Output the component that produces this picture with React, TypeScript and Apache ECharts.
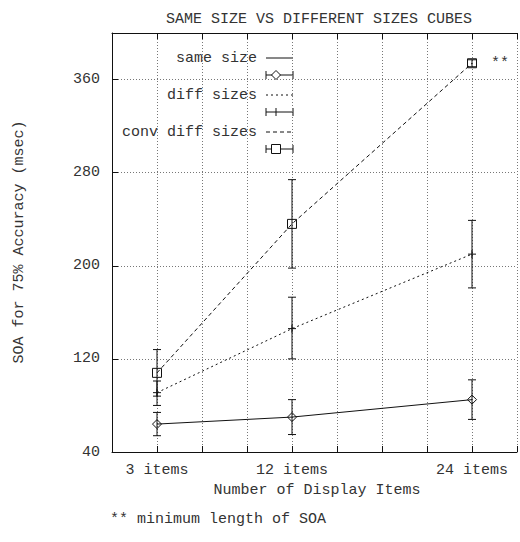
import React, { useEffect, useRef } from "react";
import * as echarts from "echarts";

// Number of display items (x positions) and the SOA values with their error ranges
const itemCounts = [3, 12, 24];

const sameSize = [64, 70, 85];
const sameSizeLow = [54, 55, 68];
const sameSizeHigh = [74, 85, 102];

const diffSizes = [91, 146, 210];
const diffSizesLow = [80, 120, 181];
const diffSizesHigh = [101, 173, 239];

const convDiffSizes = [108, 236, 374];
const convDiffSizesLow = [88, 198, 371];
const convDiffSizesHigh = [128, 274, 377];

const xTickLabels: Record<number, string> = { 3: "3 items", 12: "12 items", 24: "24 items" };
const yTickLabels = [40, 120, 200, 280, 360];

const FONT = "'Liberation Mono', 'DejaVu Sans Mono', monospace";
const INK = "#111";
const TEXT = "#333";
const GRID_LEFT = 112;
const GRID_TOP = 33;
const GRID_W = 414;
const GRID_H = 419;

function errorBarSeries(name: string, low: number[], high: number[]) {
  return {
    name: name + " err",
    type: "custom",
    z: 2,
    silent: true,
    data: itemCounts.map((x, i) => [x, low[i], high[i]]),
    renderItem: (_params: any, api: any) => {
      const x = api.value(0);
      const lo = api.coord([x, api.value(1)]);
      const hi = api.coord([x, api.value(2)]);
      const hw = 4;
      const style = { stroke: INK, lineWidth: 1 };
      return {
        type: "group",
        children: [
          { type: "line", shape: { x1: lo[0], y1: lo[1], x2: hi[0], y2: hi[1] }, style },
          { type: "line", shape: { x1: hi[0] - hw, y1: hi[1], x2: hi[0] + hw, y2: hi[1] }, style },
          { type: "line", shape: { x1: lo[0] - hw, y1: lo[1], x2: lo[0] + hw, y2: lo[1] }, style },
        ],
      };
    },
  };
}

function lineSeries(name: string, values: number[], dash: any, symbol: string, size: number, extra?: any) {
  return {
    name,
    type: "line",
    z: 3,
    data: itemCounts.map((x, i) => {
      const item: any = { value: [x, values[i]] };
      if (extra && extra.index === i) item.label = extra.label;
      return item;
    }),
    lineStyle: { color: INK, width: 1, type: dash },
    symbol,
    symbolSize: size,
    showAllSymbol: true,
    itemStyle: { color: "transparent", borderColor: INK, borderWidth: 1 },
    emphasis: { disabled: true },
  };
}

function legendGraphics() {
  const textX = 257;
  const x1 = 266;
  const x2 = 293;
  const mx = 276;
  const rows = [
    { label: "same size", y: 58, dash: "solid", marker: "diamond" },
    { label: "diff sizes", y: 95, dash: [2, 3], marker: "plus" },
    { label: "conv diff sizes", y: 132, dash: [4, 3], marker: "square" },
  ];
  const els: any[] = [];
  rows.forEach((r) => {
    els.push({
      type: "text",
      x: textX,
      y: r.y,
      style: { text: r.label, font: `15px ${FONT}`, fill: TEXT, align: "right", verticalAlign: "middle" },
    });
    els.push({
      type: "line",
      shape: { x1, y1: r.y, x2, y2: r.y },
      style: { stroke: INK, lineWidth: 1, lineDash: r.dash === "solid" ? null : r.dash },
    });
    const ey = r.y + 17;
    const st = { stroke: INK, lineWidth: 1, fill: "none" };
    els.push({ type: "line", shape: { x1, y1: ey, x2, y2: ey }, style: st });
    els.push({ type: "line", shape: { x1, y1: ey - 4, x2: x1, y2: ey + 4 }, style: st });
    els.push({ type: "line", shape: { x1: x2, y1: ey - 4, x2, y2: ey + 4 }, style: st });
    if (r.marker === "diamond") {
      els.push({
        type: "polygon",
        shape: { points: [[mx, ey - 4.5], [mx + 4.5, ey], [mx, ey + 4.5], [mx - 4.5, ey]] },
        style: { stroke: INK, lineWidth: 1, fill: "#fff" },
      });
    } else if (r.marker === "plus") {
      els.push({ type: "line", shape: { x1: mx, y1: ey - 4, x2: mx, y2: ey + 4 }, style: st });
    } else {
      els.push({ type: "rect", shape: { x: mx - 4.5, y: ey - 4.5, width: 9, height: 9 }, style: { stroke: INK, lineWidth: 1, fill: "#fff" } });
    }
  });
  return els;
}

export default function App() {
  const ref = useRef<HTMLDivElement>(null);

  useEffect(() => {
    if (!ref.current) return;
    document.body.style.margin = "0";
    const chart = echarts.init(ref.current, null, { renderer: "svg" });
    const gridLine = { show: true, lineStyle: { color: "#777", width: 1, type: [1, 2] } };
    const axisLine = { show: true, lineStyle: { color: INK, width: 1 } };
    const tick = { show: true, inside: true, length: 6, lineStyle: { color: INK, width: 1 } };

    chart.setOption({
      animation: false,
      backgroundColor: "#fff",
      textStyle: { fontFamily: FONT },
      title: {
        text: "SAME SIZE VS DIFFERENT SIZES CUBES",
        left: 314,
        top: 7,
        textAlign: "center",
        textStyle: { fontFamily: FONT, fontSize: 15, fontWeight: "normal", color: TEXT },
      },
      grid: { left: GRID_LEFT, top: GRID_TOP, width: GRID_W, height: GRID_H },
      xAxis: [
        {
          type: "value",
          min: 0,
          max: 27,
          interval: 3,
          axisLine,
          axisTick: tick,
          splitLine: gridLine,
          axisLabel: {
            margin: 11,
            fontFamily: FONT,
            fontSize: 15,
            color: TEXT,
            formatter: (v: number) => xTickLabels[v] || "",
          },
        },
        {
          type: "value",
          position: "top",
          min: 0,
          max: 27,
          interval: 3,
          axisLine,
          axisTick: tick,
          splitLine: { show: false },
          axisLabel: { show: false },
        },
      ],
      yAxis: {
        type: "value",
        min: 40,
        max: 400,
        interval: 80,
        axisLine,
        axisTick: tick,
        splitLine: gridLine,
        axisLabel: {
          margin: 12,
          fontFamily: FONT,
          fontSize: 15,
          color: TEXT,
          formatter: (v: number) => (yTickLabels.includes(v) ? String(v) : ""),
        },
      },
      series: [
        errorBarSeries("same size", sameSizeLow, sameSizeHigh),
        errorBarSeries("diff sizes", diffSizesLow, diffSizesHigh),
        errorBarSeries("conv diff sizes", convDiffSizesLow, convDiffSizesHigh),
        lineSeries("same size", sameSize, "solid", "diamond", 9),
        lineSeries("diff sizes", diffSizes, [2, 3], "path://M0,5L10,5M5,0L5,10", 8),
        lineSeries("conv diff sizes", convDiffSizes, [4, 3], "rect", 9, {
          index: 2,
          label: {
            show: true,
            formatter: "**",
            position: "right",
            distance: 14,
            fontFamily: FONT,
            fontSize: 15,
            color: TEXT,
          },
        }),
      ],
      graphic: [
        ...legendGraphics(),
        {
          type: "text",
          x: 19,
          y: 242,
          rotation: Math.PI / 2,
          style: {
            text: "SOA for 75% Accuracy (msec)",
            font: `15px ${FONT}`,
            fill: TEXT,
            align: "center",
            verticalAlign: "middle",
          },
        },
        {
          type: "text",
          x: 317,
          y: 490,
          style: {
            text: "Number of Display Items",
            font: `15px ${FONT}`,
            fill: TEXT,
            align: "center",
            verticalAlign: "middle",
          },
        },
        {
          type: "text",
          x: 110,
          y: 519,
          style: {
            text: "** minimum length of SOA",
            font: `15px ${FONT}`,
            fill: TEXT,
            align: "left",
            verticalAlign: "middle",
          },
        },
      ],
    });
    return () => chart.dispose();
  }, []);

  return <div ref={ref} style={{ width: 520, height: 542 }} />;
}
